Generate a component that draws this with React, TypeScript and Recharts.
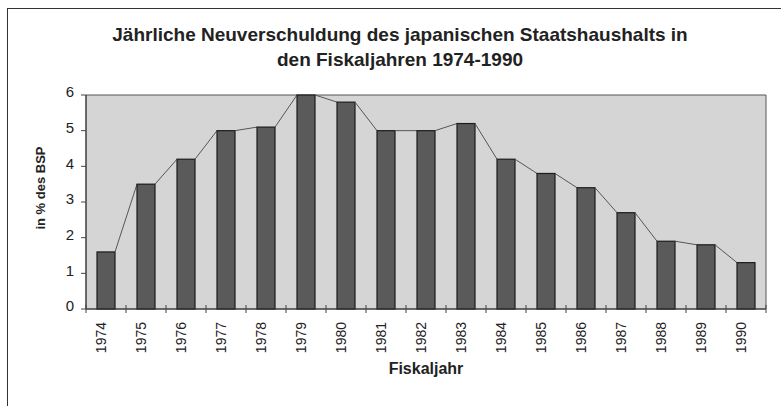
import { BarChart, Bar, XAxis, YAxis, ReferenceArea, Label } from 'recharts';

const years = ['1974', '1975', '1976', '1977', '1978', '1979', '1980', '1981', '1982', '1983', '1984', '1985', '1986', '1987', '1988', '1989', '1990'];
const debtRatio = [1.6, 3.5, 4.2, 5.0, 5.1, 6.0, 5.8, 5.0, 5.0, 5.2, 4.2, 3.8, 3.4, 2.7, 1.9, 1.8, 1.3];
const yTicks = [0, 1, 2, 3, 4, 5, 6];

const data = years.map((year, i) => ({ year, value: debtRatio[i] }));

const W = 781;
const H = 406;
const MARGIN = { top: 95, right: 15, bottom: 37, left: 50 };
const Y_AXIS_W = 36;
const X_AXIS_H = 60;
const STEP = (W - MARGIN.left - Y_AXIS_W - MARGIN.right) / years.length;
const FONT = '"Liberation Sans", Arial, sans-serif';

// bar plus Excel-style series line to the top-left corner of the next bar
const SeriesBar = (props: any) => {
  const { x, y, width, height, index } = props;
  const v = debtRatio[index];
  const next = debtRatio[index + 1];
  let link = null;
  if (next !== undefined && v > 0) {
    const perUnit = height / v;
    const nextY = y + height - next * perUnit;
    link = <line x1={x + width} y1={y} x2={x + STEP} y2={nextY} stroke="#555" strokeWidth={1} />;
  }
  return (
    <g>
      <rect x={x} y={y} width={width} height={height} fill="#5a5a5a" stroke="#1c1c1c" strokeWidth={1.2} />
      {link}
    </g>
  );
};

const YearTick = (props: any) => {
  const { x, y, payload, index } = props;
  const ty = y + 13;
  return (
    <g>
      <line x1={x - STEP / 2} x2={x - STEP / 2} y1={y - 4} y2={y + 4} stroke="#444" />
      {index === years.length - 1 && (
        <line x1={x + STEP / 2} x2={x + STEP / 2} y1={y - 4} y2={y + 4} stroke="#444" />
      )}
      <text
        x={x}
        y={ty}
        transform={`rotate(-90 ${x} ${ty})`}
        textAnchor="end"
        fontFamily={FONT}
        fontSize={14}
        fill="#222"
      >
        {payload.value}
      </text>
    </g>
  );
};

export default function App() {
  return (
    <div style={{ position: 'absolute', left: 0, top: 0, width: W, height: H, overflow: 'hidden', background: '#fff' }}>
      <div
        style={{
          position: 'absolute',
          left: 7,
          top: 8,
          width: 800,
          height: 420,
          borderLeft: '1.5px solid #333',
          borderTop: '1.5px solid #333',
        }}
      />
      <div
        style={{
          position: 'absolute',
          left: 50,
          top: 22,
          width: 700,
          textAlign: 'center',
          fontFamily: FONT,
          fontWeight: 'bold',
          fontSize: 19,
          lineHeight: '25px',
          color: '#222',
        }}
      >
        Jährliche Neuverschuldung des japanischen Staatshaushalts in
        <br />
        den Fiskaljahren 1974-1990
      </div>
      <div style={{ position: 'absolute', left: 0, top: 0 }}>
        <BarChart width={W} height={H} data={data} margin={MARGIN} barSize={18}>
          <ReferenceArea y1={0} y2={6} fill="#d5d5d5" fillOpacity={1} stroke="#555" strokeWidth={1} />
          <XAxis
            dataKey="year"
            height={X_AXIS_H}
            tickLine={false}
            tickSize={0}
            tickMargin={0}
            interval={0}
            axisLine={{ stroke: '#333' }}
            tick={<YearTick />}
          >
            <Label
              content={(p: any) => {
                const vb = p.viewBox;
                return (
                  <text
                    x={vb.x + vb.width / 2}
                    y={vb.y + 65}
                    textAnchor="middle"
                    fontFamily={FONT}
                    fontWeight="bold"
                    fontSize={16}
                    fill="#222"
                  >
                    Fiskaljahr
                  </text>
                );
              }}
            />
          </XAxis>
          <YAxis
            width={Y_AXIS_W}
            domain={[0, 6]}
            ticks={yTicks}
            interval={0}
            tickSize={5}
            tickMargin={7}
            axisLine={{ stroke: '#333' }}
            tickLine={{ stroke: '#444' }}
            tick={{ fontFamily: FONT, fontSize: 15, fill: '#222', dy: -3 }}
          >
            <Label
              content={(p: any) => {
                const vb = p.viewBox;
                const lx = vb.x - 5;
                const ly = vb.y + vb.height / 2 - 14;
                return (
                  <text
                    x={lx}
                    y={ly}
                    transform={`rotate(-90 ${lx} ${ly})`}
                    textAnchor="middle"
                    fontFamily={FONT}
                    fontWeight="bold"
                    fontSize={13}
                    fill="#222"
                  >
                    in % des BSP
                  </text>
                );
              }}
            />
          </YAxis>
          <Bar dataKey="value" shape={<SeriesBar />} isAnimationActive={false} />
        </BarChart>
      </div>
    </div>
  );
}
